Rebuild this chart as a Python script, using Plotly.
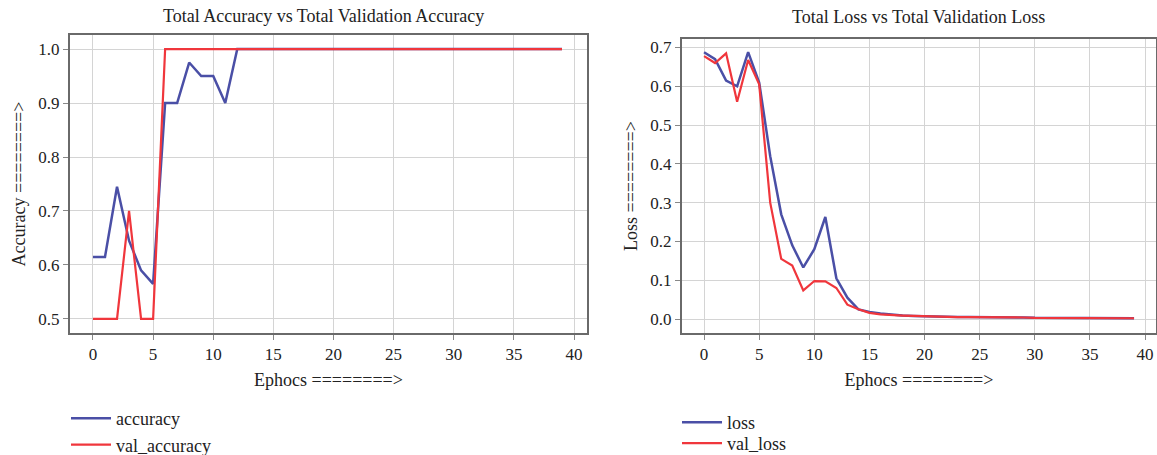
import plotly.graph_objects as go

epochs = list(range(40))
accuracy = [0.615, 0.615, 0.745, 0.645, 0.59, 0.565, 0.9, 0.9, 0.975, 0.95, 0.95, 0.9] + [1.0] * 28
val_accuracy = [0.5, 0.5, 0.5, 0.7, 0.5, 0.5] + [1.0] * 34
loss = [0.688, 0.67, 0.615, 0.6, 0.688, 0.61, 0.42, 0.27, 0.19, 0.133,
        0.18, 0.263, 0.105, 0.055, 0.025, 0.018, 0.014, 0.011, 0.009, 0.008,
        0.007, 0.006, 0.006, 0.005, 0.005, 0.005, 0.004, 0.004, 0.004, 0.004,
        0.003, 0.003, 0.003, 0.003, 0.003, 0.003, 0.002, 0.002, 0.002, 0.002]
val_loss = [0.678, 0.66, 0.685, 0.56, 0.668, 0.605, 0.3, 0.155, 0.138, 0.074,
            0.098, 0.097, 0.08, 0.037, 0.025, 0.016, 0.012, 0.010, 0.009, 0.008,
            0.007, 0.006, 0.006, 0.005, 0.005, 0.005, 0.004, 0.004, 0.004, 0.004,
            0.003, 0.003, 0.003, 0.003, 0.003, 0.003, 0.003, 0.002, 0.002, 0.002]
x_ticks = [0, 5, 10, 15, 20, 25, 30, 35, 40]
acc_ticks = [0.5, 0.6, 0.7, 0.8, 0.9, 1.0]
loss_ticks = [0.0, 0.1, 0.2, 0.3, 0.4, 0.5, 0.6, 0.7]

BLUE = "#4a4fa6"
RED = "#f0363c"
FONT = "Liberation Serif"

fig = go.Figure()
fig.add_trace(go.Scatter(x=epochs, y=accuracy, mode="lines", name="accuracy",
                         line=dict(color=BLUE, width=2.5), xaxis="x", yaxis="y", legend="legend"))
fig.add_trace(go.Scatter(x=epochs, y=val_accuracy, mode="lines", name="val_accuracy",
                         line=dict(color=RED, width=2.2), xaxis="x", yaxis="y", legend="legend"))
fig.add_trace(go.Scatter(x=epochs, y=loss, mode="lines", name="loss",
                         line=dict(color=BLUE, width=2.5), xaxis="x2", yaxis="y2", legend="legend2"))
fig.add_trace(go.Scatter(x=epochs, y=val_loss, mode="lines", name="val_loss",
                         line=dict(color=RED, width=2.2), xaxis="x2", yaxis="y2", legend="legend3"))

axis_common = dict(showline=True, mirror=True, linecolor="#6a6a6a", linewidth=2,
                   showgrid=True, gridcolor="#d4d4d4", gridwidth=1.2, zeroline=False,
                   ticks="outside", ticklen=5, tickcolor="#888888", automargin=False,
                   tickfont=dict(family=FONT, size=17, color="#222222"))

W, H = 1157, 455
def fx(px):
    return px / W
def fy(py):
    return 1 - py / H

legend_common = dict(xanchor="left", yanchor="top", font=dict(family=FONT, size=18),
                     bgcolor="rgba(0,0,0,0)", tracegroupgap=0, itemwidth=40)

fig.update_layout(
    width=W, height=H,
    margin=dict(l=0, r=0, t=0, b=0, autoexpand=False),
    paper_bgcolor="white", plot_bgcolor="white",
    font=dict(family=FONT, color="#222222"),
    xaxis=dict(domain=[fx(70), fx(587)], range=[-1.91, 41.08], tickvals=x_ticks,
               anchor="y", title=dict(text="Ephocs ========>", font=dict(size=18), standoff=10),
               **axis_common),
    yaxis=dict(domain=[fy(333), fy(35)], range=[0.474, 1.026], tickvals=acc_ticks,
               tickformat=".1f", anchor="x",
               title=dict(text="Accuracy ========>", font=dict(size=18), standoff=8),
               **axis_common),
    xaxis2=dict(domain=[fx(682), fx(1156)], range=[-2.0, 40.99], tickvals=x_ticks,
                anchor="y2", title=dict(text="Ephocs ========>", font=dict(size=18), standoff=10),
                **axis_common),
    yaxis2=dict(domain=[fy(333), fy(39)], range=[-0.036, 0.722], tickvals=loss_ticks,
                tickformat=".1f", anchor="x2",
                title=dict(text="Loss ========>", font=dict(size=18), standoff=8),
                **axis_common),
    legend=dict(x=fx(66), y=fy(400), **legend_common),
    legend2=dict(x=fx(677), y=fy(404), **legend_common),
    legend3=dict(x=fx(677), y=fy(425), **legend_common),
    annotations=[
        dict(text="Total Accuracy vs Total Validation Accuracy", x=fx(323), y=fy(16),
             xref="paper", yref="paper", showarrow=False, xanchor="center", yanchor="middle",
             font=dict(family=FONT, size=18, color="#222222")),
        dict(text="Total Loss vs Total Validation Loss", x=fx(918), y=fy(17),
             xref="paper", yref="paper", showarrow=False, xanchor="center", yanchor="middle",
             font=dict(family=FONT, size=18, color="#222222")),
    ],
)

fig.write_html("out.html", config={"displayModeBar": False},
               post_script="document.body.style.margin='0px';document.body.style.padding='0px';")
